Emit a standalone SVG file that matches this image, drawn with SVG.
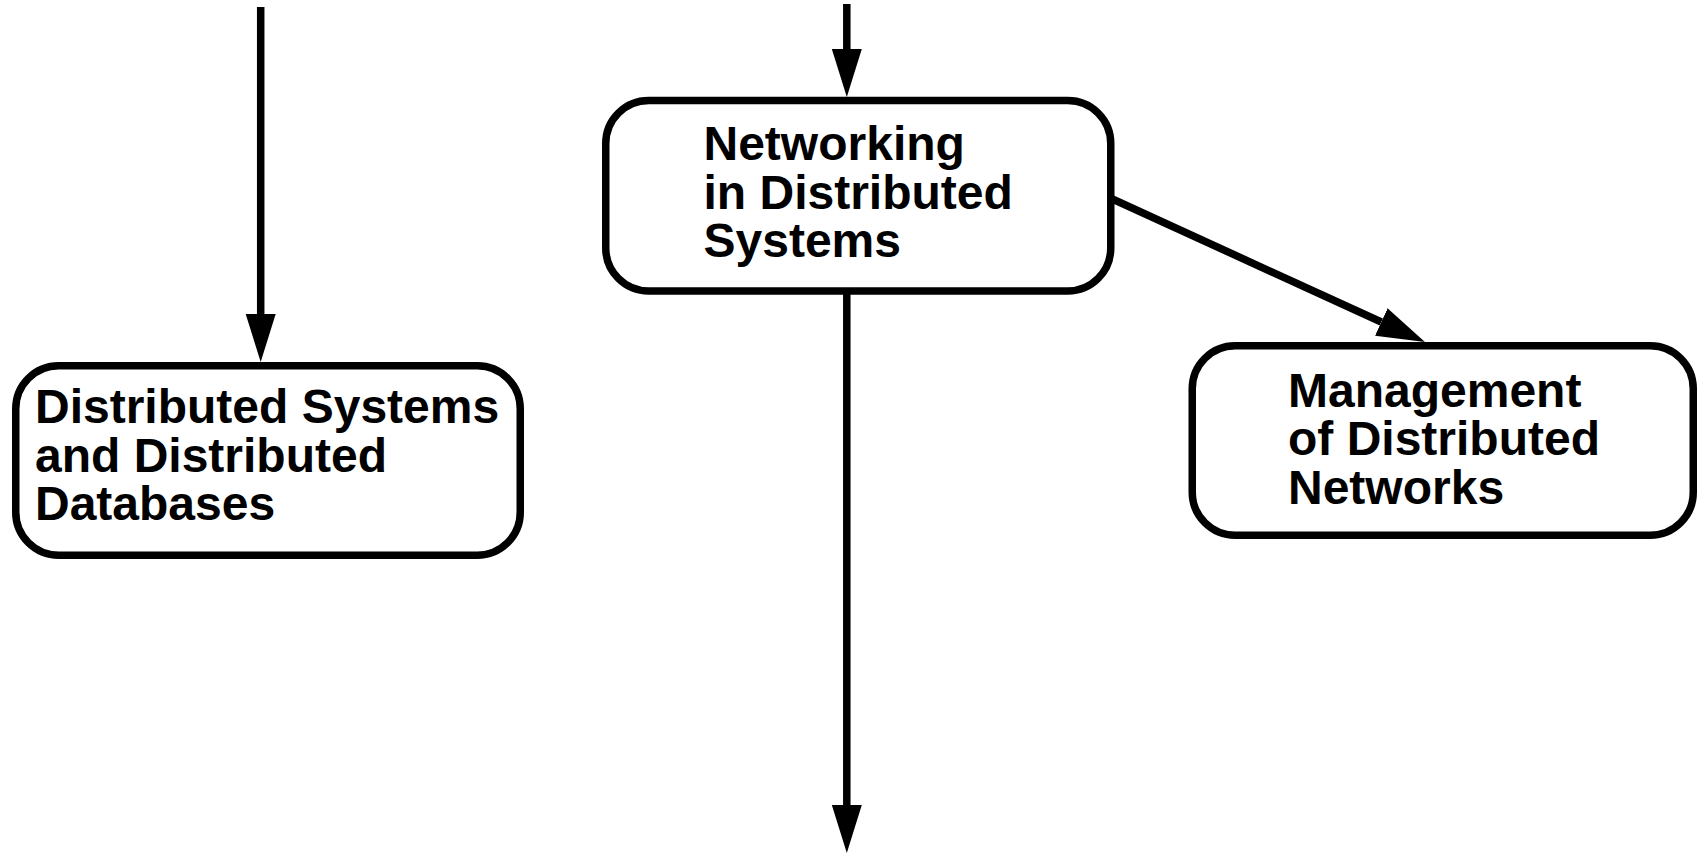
<svg xmlns="http://www.w3.org/2000/svg" width="1698" height="856" viewBox="0 0 1698 856">
  <defs>
    <style>
      .box { fill: #ffffff; stroke: #000000; stroke-width: 7.5; }
      .lbl { font-family: "Liberation Sans", Arial, Helvetica, sans-serif; font-weight: bold; font-size: 48px; fill: #000000; }
      .edge { fill: none; stroke: #000000; stroke-width: 7.5; }
    </style>
    <marker id="arrow" markerUnits="userSpaceOnUse" markerWidth="50" markerHeight="32" refX="0" refY="16" orient="auto" viewBox="0 0 50 32">
      <path d="M0,1 L48,16 L0,31 Z" fill="#000000"/>
    </marker>
  </defs>
  <rect width="1698" height="856" fill="#ffffff"/>

  <g id="connectors">
    <line class="edge" x1="260.7" y1="7" x2="260.7" y2="314" marker-end="url(#arrow)"/>
    <line class="edge" x1="846.8" y1="4" x2="846.8" y2="49" marker-end="url(#arrow)"/>
    <line class="edge" x1="846.8" y1="292" x2="846.8" y2="805" marker-end="url(#arrow)"/>
    <line class="edge" x1="1108" y1="197" x2="1381.3" y2="322" marker-end="url(#arrow)"/>
  </g>

  <g id="node-dsdb">
    <rect class="box" x="15.75" y="365.75" width="504.5" height="189.5" rx="43" ry="43"/>
    <text class="lbl" x="35" y="423">Distributed Systems</text>
    <text class="lbl" x="35" y="471.5">and Distributed</text>
    <text class="lbl" x="35" y="520">Databases</text>
  </g>

  <g id="node-networking">
    <rect class="box" x="605.75" y="100.5" width="505" height="190.5" rx="43" ry="43"/>
    <text class="lbl" x="703.5" y="160">Networking</text>
    <text class="lbl" x="703.5" y="208.5">in Distributed</text>
    <text class="lbl" x="703.5" y="257">Systems</text>
  </g>

  <g id="node-management">
    <rect class="box" x="1192.25" y="345.75" width="501" height="189.5" rx="43" ry="43"/>
    <text class="lbl" x="1288" y="406.5">Management</text>
    <text class="lbl" x="1288" y="455">of Distributed</text>
    <text class="lbl" x="1288" y="503.5">Networks</text>
  </g>
</svg>
